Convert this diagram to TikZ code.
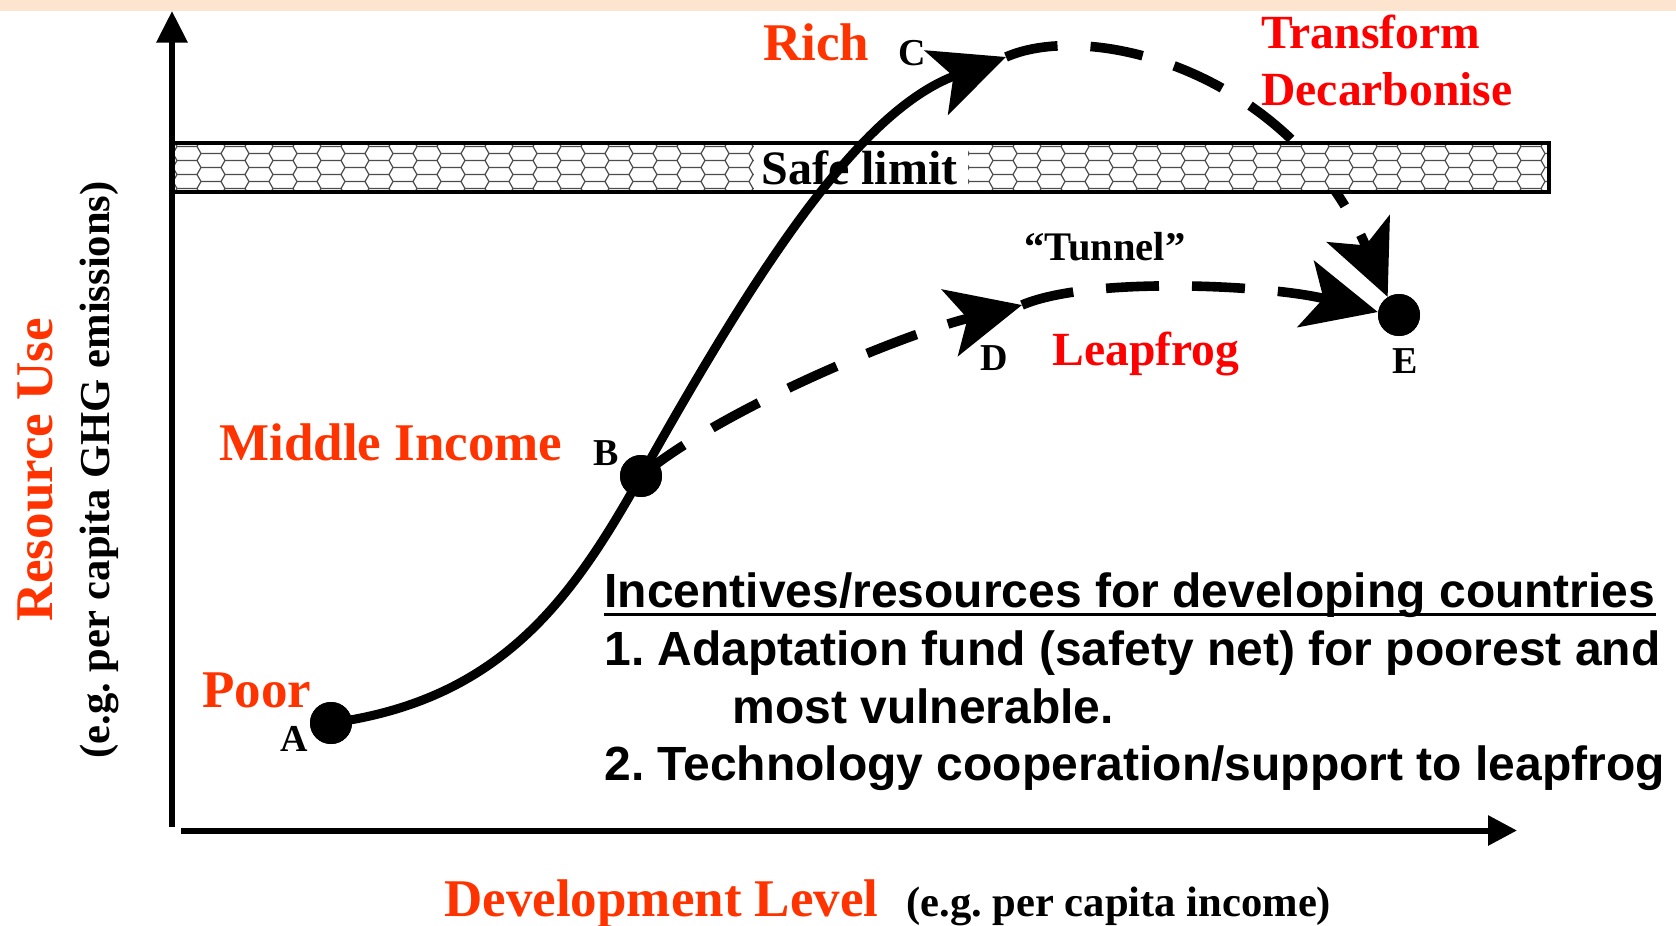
\documentclass[tikz,border=0pt]{standalone}
\usepackage{fontspec}
\setmainfont{Liberation Serif}
\newfontfamily\sansb{Liberation Sans}
\usetikzlibrary{arrows.meta}
\definecolor{orng}{RGB}{255,51,0}
\definecolor{redd}{RGB}{255,0,0}
\definecolor{peach}{RGB}{253,228,206}
\frenchspacing
\begin{document}
\begin{tikzpicture}[x=0.5pt,y=-0.5pt,
  lblO/.style={inner sep=0pt, anchor=base west, text=orng, font=\bfseries\fontsize{26.5}{30}\selectfont},
  lblR/.style={inner sep=0pt, anchor=base west, text=redd, font=\bfseries\fontsize{23.8}{28}\selectfont},
  lblK/.style={inner sep=0pt, anchor=base west, font=\bfseries\fontsize{19}{22}\selectfont},
  safe/.style={inner sep=0pt, anchor=base west, font=\bfseries\fontsize{24}{28}\selectfont},
  tun/.style={inner sep=0pt, anchor=base west, font=\bfseries\fontsize{20.3}{24}\selectfont},
  eg/.style={inner sep=0pt, anchor=base west, font=\bfseries\fontsize{21.3}{25}\selectfont},
  list/.style={inner sep=0pt, anchor=base west, font=\sansb\bfseries\fontsize{24}{28}\selectfont},
  axis/.style={line width=3pt},
  dot/.style={circle, fill=black, minimum size=21pt, inner sep=0pt},
  curve/.style={line width=4.5pt},
  dashline/.style={line width=4.8pt, dash pattern=on 26.5pt off 16.5pt},
  pat/.style={line width=0.6pt, black!70},
  bigtip/.tip={Stealth[length=37pt,width=34pt,inset=9pt]}
]
\useasboundingbox (0,0) rectangle (1676,926);
\fill[peach] (0,0) rectangle (1676,11);

% points
\node[dot] (Ap) at (331,723) {};
\node[dot] (Bp) at (641,476) {};
\node[dot] (Ep) at (1399,315) {};
\coordinate (Ctip) at (1006,57);
\coordinate (Dtip) at (1022,305);

% dashed C -> E (under the band)
\draw[dashline, -bigtip] (Ctip) .. controls (1090,20) and (1290,70) .. (Ep.122);

% band
\fill[white] (172,143) rectangle (1549,192);
\begin{scope}
\clip (173,144) rectangle (1548,191);
\foreach \k in {-1,...,7}{
  \foreach \j in {-1,...,28}{
    \draw[pat] ({173+\j*48+mod(\k+2,2)*24+4},{146.5+\k*7}) -- ++(20,0) -- ++(4,7) ++(-4,-7) -- ++(4,-7);
  }
}
\end{scope}
\fill[white] (754,145) rectangle (968,190);
\draw[line width=1.6pt] (172,143) rectangle (1549,192);

% axes
\coordinate (yb) at (172,827);
\coordinate (yt) at (172,11);
\coordinate (xl) at (181,830.5);
\coordinate (xr) at (1517,830.5);
\draw[axis, -{Triangle[length=15.75pt,width=15pt]}] (yb) -- (yt);
\draw[axis, -{Triangle[length=14.5pt,width=14.5pt]}] (xl) -- (xr);

% curves
\draw[curve, -bigtip] (Ap.center) .. controls (500,700) and (571,601) .. (Bp.center)
   .. controls (751,280) and (856,112) .. (Ctip);
\draw[dashline, -bigtip] (Bp.center) .. controls (720,410) and (900,335) .. (Dtip);
\draw[dashline, -bigtip] (Dtip) .. controls (1090,276) and (1270,285) .. (Ep.172);

% dots on top
\node[dot] at (Ap) {};
\node[dot] at (Bp) {};
\node[dot] at (Ep) {};

% labels
\node[safe] (sl) at (761,184) {Safe limit};
\node[lblO] (rich) at (763,61) {Rich};
\node[lblK] (cl) at (898,65) {C};
\node[lblR] (tr) at (1261,48) {Transform};
\node[lblR] (dc) at (1261,105) {Decarbonise};
\node[tun] (tn) at (1024,260) {“Tunnel”};
\node[lblK] (dl) at (980,370) {D};
\node[lblR] (lf) at (1052,365) {Leapfrog};
\node[lblK] (el) at (1392,373) {E};
\node[lblO] (mi) at (219,460) {Middle Income};
\node[lblK] (bl) at (593,465) {B};
\node[lblO] (po) at (202,707) {Poor};
\node[lblK] (al) at (280,751) {A};
\node[lblO, rotate=90, anchor=center] (ru) at (35,470) {Resource Use};
\node[eg, rotate=90, anchor=center] (eg1) at (99,470) {(e.g. per capita GHG emissions)};
\node[lblO] (dev) at (444,916) {Development Level};
\node[eg] (eg2) at (906,916) {(e.g. per capita income)};

\node[list] (l1) at (604,607) {Incentives/resources for developing countries};
\draw[line width=1.5pt] ([yshift=-3.5pt]l1.base west) -- ([yshift=-3.5pt]l1.base east);
\node[list] (l2) at (604,665) {1. Adaptation fund (safety net) for poorest and};
\node[list] (l3) at (732,723) {most vulnerable.};
\node[list] (l4) at (604,780) {2. Technology cooperation/support to leapfrog};
\end{tikzpicture}
\end{document}
